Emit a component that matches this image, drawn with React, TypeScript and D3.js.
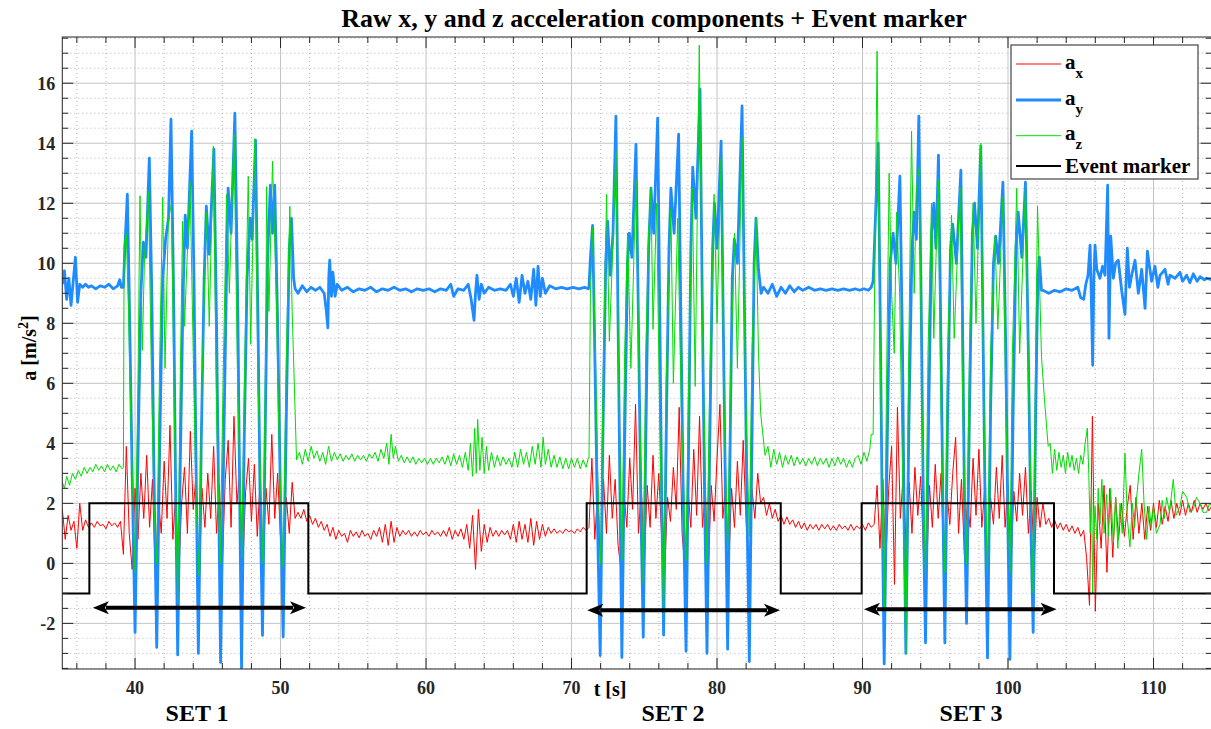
import React, { useEffect, useRef } from 'react';
import * as d3 from 'd3';

type Pt = [number, number];

// axis ticks
const xTicks = [40, 50, 60, 70, 80, 90, 100, 110];
const yTicks = [-2, 0, 2, 4, 6, 8, 10, 12, 14, 16];

// a_x : sampled every 0.2 s starting at 35 s (one row = 2 s)
const axStart = 35;
const axStep = 0.2;
const axValues = [
  1.8, 0.8, 1.6, 1.1, 1.4, 0.5, 2.0, 1.1, 1.45, 1.2, // 35
  1.35, 1.2, 1.4, 1.25, 1.3, 1.15, 1.4, 1.25, 1.35, 1.2, // 37
  1.4, 0.3, 3.9, 1.0, -0.2, 2.5, 0.8, 3.0, 1.5, 3.6, // 39
  1.2, 2.8, -0.6, 2.2, 1.0, 3.4, 1.5, 4.6, 0.8, 2.4, // 41
  -0.5, 2.0, 3.2, 1.0, 4.4, 1.8, 3.0, -1.0, 2.5, 1.2, // 43
  3.0, 1.5, 3.9, 1.0, 2.6, -0.1, 2.8, 4.1, 1.2, 4.9, // 45
  2.0, 3.0, -0.2, 2.4, 3.5, 1.4, 3.3, 0.9, 2.8, 0.0, // 47
  2.5, 1.3, 4.3, 1.5, 3.0, 0.8, -0.1, 2.2, 1.0, 2.7, // 49
  1.5, 1.7, 1.5, 1.8, 1.4, 1.6, 1.3, 1.5, 1.2, 1.4, // 51
  1.1, 1.3, 0.9, 1.2, 0.8, 1.1, 0.9, 1.0, 0.7, 1.1, // 53
  0.9, 1.05, 0.85, 1.1, 0.9, 1.0, 0.8, 1.1, 0.9, 1.2, // 55
  0.7, 1.3, 0.6, 1.4, 0.7, 1.2, 0.9, 1.1, 0.95, 1.1, // 57
  0.9, 1.05, 0.9, 1.1, 0.95, 1.05, 0.9, 1.1, 0.95, 1.05, // 59
  0.9, 1.1, 0.9, 1.2, 0.8, 1.1, 0.9, 1.15, 0.8, 1.3, // 61
  0.5, 1.6, -0.2, 1.8, 0.4, 1.3, 0.7, 1.2, 0.9, 1.1, // 63
  0.9, 1.1, 0.95, 1.1, 0.8, 1.3, 0.7, 1.4, 0.8, 1.3, // 65
  0.7, 1.5, 0.6, 1.4, 0.8, 1.3, 0.9, 1.2, 1.0, 1.15, // 67
  1.0, 1.1, 1.0, 1.15, 1.05, 1.1, 1.0, 1.15, 1.05, 1.2, // 69
  1.1, 1.2, 3.5, 0.8, 2.5, -0.3, 2.8, 1.0, 3.6, 1.5, // 71
  2.8, 0.6, -0.2, 2.4, 1.2, 3.5, 1.8, 5.3, 1.0, 2.5, // 73
  -0.1, 2.6, 1.2, 3.6, 1.5, 3.0, 0.8, -0.3, 2.2, 1.4, // 75
  3.2, 1.8, 5.2, 1.0, -0.2, 2.5, 1.2, 3.8, 1.6, 4.9, // 77
  1.2, 2.4, -0.3, 2.6, 1.4, 3.5, 5.3, 1.5, 2.6, -0.2, // 79
  2.5, 1.2, 3.4, 1.6, 4.1, 1.4, -0.3, 2.5, 1.5, 3.0, // 81
  2.0, 2.2, 1.6, 2.0, 1.5, 1.8, 1.4, 1.6, 1.3, 1.55, // 83
  1.3, 1.45, 1.2, 1.4, 1.15, 1.35, 1.1, 1.3, 1.15, 1.3, // 85
  1.1, 1.3, 1.15, 1.3, 1.1, 1.25, 1.1, 1.3, 1.15, 1.25, // 87
  1.1, 1.3, 1.1, 1.25, 1.15, 1.3, 1.1, 1.35, 1.2, 1.3, // 89
  2.6, 0.5, 2.8, 0.0, 2.5, 3.9, -0.7, 5.2, 1.5, 3.0, // 91
  0.5, 2.7, 1.0, 3.2, 1.6, 2.9, 0.2, -0.4, 2.6, 1.2, // 93
  3.3, 1.5, 3.0, -0.3, 2.4, 1.3, 3.0, 4.2, 1.0, 2.8, // 95
  0.3, 2.0, 1.2, 3.5, 1.6, 3.8, 1.2, 2.5, -0.5, 2.2, // 97
  1.3, 3.2, 1.5, 3.6, 1.2, 2.6, -0.2, 2.4, 1.4, 3.0, // 99
  1.6, 3.2, 1.0, 2.4, 0.0, 2.2, 1.2, 2.0, 1.3, 1.5, // 101
  1.2, 1.45, 1.15, 1.35, 1.1, 1.3, 1.05, 1.25, 1.0, 1.2, // 103
  0.9, 1.1, 0.2, -1.4, 4.9, -1.6, 2.0, 0.5, 2.6, -0.3, // 105
  2.5, 0.2, 2.2, 0.8, 2.0, 0.9, 1.9, 2.6, 0.8, 2.2, // 107
  1.0, 2.0, 0.8, 1.9, 1.1, 2.0, 1.2, 2.1, 1.3, 1.9, // 109
  1.4, 2.1, 1.5, 2.0, 1.6, 2.1, 1.6, 2.0, 1.7, 2.1, // 111
  1.7, 2.0, 1.8, 2.0, 1.75, 1.9, // 113
];

// a_y : [t, value]
const ayPoints: Pt[] = [
  [35.0, 9.3], [35.15, 9.75], [35.3, 8.8], [35.45, 9.5], [35.6, 8.6], [35.75, 9.4], [35.9, 10.2], [36.05, 8.7],
  [36.2, 9.3], [36.4, 9.2], [36.6, 9.3], [36.8, 9.2], [37.0, 9.25], [37.3, 9.15], [37.6, 9.25], [37.9, 9.2],
  [38.2, 9.3], [38.5, 9.15], [38.8, 9.25], [38.95, 9.45], [39.05, 9.2],
  // set 1
  [39.2, 9.2], [39.3, 10.5], [39.47, 12.3], [39.6, 9.0], [39.8, 3.0], [40.0, -2.3], [40.2, 3.5], [40.4, 9.0],
  [40.57, 10.7], [40.75, 10.2], [40.98, 13.5], [41.15, 9.0], [41.3, 3.0], [41.49, -2.8], [41.7, 4.0], [41.9, 9.5],
  [42.1, 10.8], [42.3, 11.5], [42.47, 14.8], [42.65, 9.0], [42.8, 2.0], [42.93, -3.05], [43.1, 3.0], [43.3, 9.0],
  [43.45, 11.6], [43.6, 10.5], [43.89, 14.4], [44.05, 9.5], [44.2, 3.0], [44.35, -3.0], [44.55, 4.0], [44.75, 9.5],
  [44.9, 11.9], [45.1, 10.3], [45.42, 13.8], [45.6, 8.0], [45.75, 2.0], [45.88, -3.3], [46.1, 4.0], [46.3, 10.0],
  [46.4, 12.5], [46.6, 11.0], [46.86, 15.0], [47.05, 9.0], [47.2, 2.0], [47.32, -3.5], [47.5, 4.0], [47.7, 9.5],
  [47.9, 11.5], [48.05, 10.8], [48.28, 14.1], [48.45, 8.0], [48.6, 2.0], [48.76, -2.4], [48.95, 4.5], [49.1, 10.0],
  [49.3, 12.6], [49.45, 11.0], [49.6, 12.6], [49.8, 8.0], [50.0, 2.0], [50.18, -2.45], [50.4, 5.0], [50.6, 10.5],
  [50.75, 11.5], [50.9, 9.5], [51.0, 9.15],
  [51.2, 9.0], [51.5, 9.25], [51.8, 9.05], [52.1, 9.2], [52.4, 9.1], [52.7, 9.2], [53.0, 9.0], [53.15, 8.4],
  [53.25, 7.85], [53.32, 9.6], [53.38, 10.1], [53.5, 8.9], [53.6, 9.7], [53.75, 8.9], [53.9, 9.3], [54.2, 9.1],
  [54.6, 9.2], [55.0, 9.05], [55.4, 9.15], [55.8, 9.1], [56.2, 9.2], [56.6, 9.05], [57.0, 9.15], [57.4, 9.1],
  [57.8, 9.2], [58.2, 9.1], [58.6, 9.15], [59.0, 9.05], [59.4, 9.15], [59.8, 9.1], [60.2, 9.15], [60.6, 9.05],
  [61.0, 9.15], [61.4, 9.1], [61.7, 9.3], [61.9, 8.9], [62.2, 9.15], [62.6, 9.1], [62.9, 9.3], [63.1, 8.8],
  [63.3, 8.1], [63.4, 9.0], [63.5, 9.6], [63.65, 8.8], [63.8, 9.3], [64.0, 9.0], [64.3, 9.2], [64.7, 9.1],
  [65.1, 9.15], [65.5, 9.1], [65.8, 9.3], [66.0, 8.9], [66.2, 9.5], [66.4, 8.7], [66.6, 9.6], [66.8, 9.0],
  [67.0, 9.4], [67.2, 8.8], [67.4, 9.8], [67.55, 8.6], [67.7, 9.9], [67.85, 8.9], [68.0, 9.5], [68.2, 9.0],
  [68.5, 9.25], [68.9, 9.15], [69.3, 9.2], [69.7, 9.15], [70.1, 9.2], [70.5, 9.15], [70.9, 9.2], [71.15, 9.15],
  // set 2
  [71.2, 9.2], [71.3, 10.2], [71.45, 11.26], [71.6, 7.0], [71.8, 1.0], [71.97, -3.07], [72.15, 4.0], [72.35, 10.0],
  [72.48, 11.4], [72.66, 9.6], [72.85, 11.0], [73.05, 14.9], [73.2, 8.0], [73.35, 1.5], [73.46, -3.14], [73.65, 4.0],
  [73.85, 10.0], [73.97, 11.0], [74.15, 10.2], [74.43, 13.96], [74.6, 8.0], [74.78, 1.5], [74.93, -2.46], [75.1, 4.0],
  [75.3, 10.5], [75.46, 12.5], [75.65, 11.0], [75.92, 14.84], [76.05, 9.0], [76.2, 2.0], [76.33, -2.39], [76.5, 4.0],
  [76.7, 10.5], [76.83, 12.5], [77.05, 11.0], [77.36, 14.3], [77.52, 8.0], [77.7, 1.5], [77.87, -2.93], [78.05, 4.0],
  [78.2, 10.5], [78.33, 13.2], [78.55, 11.5], [78.83, 15.8], [78.98, 9.0], [79.15, 2.0], [79.31, -3.0], [79.5, 4.0],
  [79.7, 10.5], [79.82, 12.0], [80.0, 10.5], [80.28, 14.07], [80.43, 8.0], [80.6, 1.5], [80.73, -2.86], [80.9, 4.0],
  [81.05, 9.5], [81.19, 10.8], [81.4, 10.0], [81.72, 15.24], [81.9, 8.0], [82.07, 1.5], [82.22, -3.27], [82.4, 4.0],
  [82.55, 10.0], [82.68, 11.5], [82.85, 9.8], [83.03, 9.0],
  [83.2, 9.2], [83.5, 9.0], [83.8, 9.3], [84.1, 8.9], [84.4, 9.2], [84.7, 9.0], [85.0, 9.25], [85.3, 9.05],
  [85.6, 9.2], [85.9, 9.1], [86.3, 9.2], [86.7, 9.1], [87.1, 9.15], [87.5, 9.1], [87.9, 9.15], [88.3, 9.1],
  [88.7, 9.15], [89.1, 9.1], [89.5, 9.15], [89.8, 9.1], [90.1, 9.15], [90.4, 9.1], [90.6, 9.2],
  // set 3
  [90.73, 9.4], [90.85, 11.0], [91.0, 13.0], [91.08, 14.0], [91.2, 9.0], [91.35, 2.0], [91.49, -3.35], [91.7, 4.0],
  [91.9, 10.0], [92.1, 11.0], [92.3, 10.0], [92.57, 12.9], [92.75, 7.0], [92.87, 1.0], [92.98, -3.0], [93.2, 5.0],
  [93.4, 10.5], [93.55, 11.7], [93.7, 10.8], [93.87, 14.9], [94.05, 8.0], [94.2, 1.0], [94.33, -2.65], [94.55, 5.0],
  [94.75, 11.0], [94.9, 12.0], [95.05, 10.5], [95.22, 13.6], [95.4, 7.0], [95.55, 1.0], [95.66, -2.65], [95.85, 5.0],
  [96.05, 10.5], [96.2, 11.3], [96.45, 10.0], [96.76, 13.1], [96.9, 7.0], [97.02, 1.5], [97.15, -2.0], [97.35, 5.0],
  [97.55, 11.0], [97.7, 12.0], [97.9, 10.5], [98.13, 13.9], [98.3, 7.0], [98.45, 1.0], [98.59, -3.15], [98.8, 5.0],
  [99.0, 10.0], [99.15, 10.9], [99.35, 10.0], [99.65, 12.7], [99.85, 7.0], [100.0, 1.0], [100.13, -3.2], [100.35, 5.0],
  [100.55, 10.5], [100.7, 11.7], [100.95, 10.2], [101.2, 12.7], [101.4, 7.0], [101.58, 1.0], [101.73, -2.3], [101.9, 5.0],
  [102.05, 9.5], [102.15, 10.2], [102.3, 9.1],
  [102.4, 9.1], [102.8, 9.0], [103.2, 9.1], [103.6, 9.05], [104.0, 9.15], [104.4, 9.1], [104.8, 9.2], [105.0, 8.85],
  [105.2, 8.8], [105.35, 9.3], [105.5, 9.6], [105.64, 10.6], [105.72, 9.0], [105.82, 6.6], [105.9, 9.5], [105.98, 10.6],
  [106.1, 9.8], [106.32, 9.5], [106.5, 9.9], [106.67, 9.6], [106.85, 12.6], [106.94, 7.5], [107.06, 10.9], [107.24, 9.5],
  [107.4, 10.0], [107.58, 10.1], [107.81, 9.1], [108.04, 8.3], [108.2, 10.5], [108.35, 9.2], [108.5, 9.6], [108.73, 10.1],
  [108.96, 9.0], [109.19, 9.8], [109.42, 8.5], [109.58, 10.4], [109.87, 9.4], [110.1, 9.9], [110.3, 9.2], [110.45, 9.6],
  [110.79, 9.8], [111.0, 9.3], [111.13, 9.6], [111.48, 9.5], [111.82, 9.7], [112.0, 9.4], [112.28, 9.6], [112.5, 9.35],
  [112.74, 9.65], [113.0, 9.4], [113.2, 9.55], [113.5, 9.45], [113.65, 9.5], [114.0, 9.45],
];

// a_z : [t, value]
const azPoints: Pt[] = [
  [35.0, 2.7], [35.15, 2.5], [35.3, 2.9], [35.5, 2.6], [35.7, 3.0], [35.9, 2.8], [36.1, 3.1], [36.3, 2.9],
  [36.5, 3.2], [36.7, 3.0], [36.9, 3.2], [37.1, 3.05], [37.3, 3.3], [37.5, 3.1], [37.7, 3.25], [37.9, 3.05],
  [38.1, 3.3], [38.3, 3.1], [38.5, 3.25], [38.7, 3.05], [38.9, 3.3], [39.1, 3.15],
  // set 1
  [39.2, 3.2], [39.25, 10.6], [39.4, 11.0], [39.55, 8.4], [39.75, 4.0], [40.0, -0.3], [40.2, 6.0], [40.34, 12.25],
  [40.5, 7.1], [40.65, 10.2], [40.92, 12.4], [41.1, 7.0], [41.3, 2.0], [41.49, 0.0], [41.7, 7.0], [41.9, 12.2],
  [42.06, 6.5], [42.29, 11.4], [42.5, 12.0], [42.7, 5.0], [42.93, -1.35], [43.1, 6.0], [43.27, 11.4], [43.4, 7.9],
  [43.78, 12.7], [44.0, 7.0], [44.2, 2.0], [44.4, -0.4], [44.6, 6.0], [44.92, 11.7], [45.1, 7.9], [45.38, 13.9],
  [45.6, 5.0], [45.85, 0.0], [46.05, 6.0], [46.29, 12.3], [46.48, 9.0], [46.8, 14.3], [47.05, 6.0], [47.33, 0.2],
  [47.55, 7.0], [47.78, 12.9], [47.95, 7.3], [48.24, 14.15], [48.45, 6.0], [48.8, 0.0], [49.0, 8.0], [49.04, 12.55],
  [49.2, 8.4], [49.45, 13.4], [49.7, 9.0], [49.9, 4.0], [50.17, -0.1], [50.4, 7.0], [50.64, 11.9], [50.8, 8.4],
  [50.95, 5.9], [51.1, 3.45],
  [51.3, 3.7], [51.5, 3.3], [51.7, 3.8], [51.9, 3.4], [52.1, 3.9], [52.3, 3.5], [52.5, 3.75], [52.7, 3.4],
  [52.9, 3.7], [53.1, 3.3], [53.3, 3.9], [53.5, 3.4], [53.7, 3.7], [53.9, 3.45], [54.1, 3.65], [54.3, 3.4],
  [54.5, 3.6], [54.7, 3.45], [54.9, 3.65], [55.1, 3.4], [55.3, 3.6], [55.5, 3.45], [55.7, 3.6], [55.9, 3.4],
  [56.1, 3.65], [56.3, 3.5], [56.5, 3.7], [56.7, 3.4], [56.9, 3.8], [57.1, 3.5], [57.3, 4.0], [57.45, 3.3],
  [57.6, 4.3], [57.75, 3.5], [57.9, 3.9], [58.1, 3.4], [58.3, 3.6], [58.5, 3.35], [58.7, 3.55], [58.9, 3.35],
  [59.1, 3.55], [59.3, 3.3], [59.5, 3.5], [59.7, 3.35], [59.9, 3.5], [60.1, 3.3], [60.3, 3.5], [60.5, 3.3],
  [60.7, 3.5], [60.9, 3.35], [61.1, 3.55], [61.3, 3.3], [61.5, 3.6], [61.7, 3.25], [61.9, 3.65], [62.1, 3.3],
  [62.3, 3.6], [62.5, 3.2], [62.7, 3.7], [62.9, 3.1], [63.05, 4.0], [63.2, 2.9], [63.35, 4.5], [63.45, 3.0],
  [63.55, 4.8], [63.7, 3.1], [63.85, 4.2], [64.0, 3.0], [64.15, 3.9], [64.3, 3.1], [64.5, 3.7], [64.7, 3.2],
  [64.9, 3.6], [65.1, 3.25], [65.3, 3.55], [65.5, 3.3], [65.7, 3.5], [65.9, 3.2], [66.1, 3.7], [66.3, 3.2],
  [66.5, 3.8], [66.7, 3.3], [66.9, 3.7], [67.1, 3.2], [67.3, 3.9], [67.5, 3.3], [67.7, 4.0], [67.9, 3.2],
  [68.05, 4.2], [68.2, 3.3], [68.4, 3.8], [68.6, 3.2], [68.8, 3.6], [69.0, 3.2], [69.2, 3.55], [69.4, 3.15],
  [69.6, 3.5], [69.8, 3.15], [70.0, 3.5], [70.2, 3.2], [70.4, 3.5], [70.6, 3.15], [70.8, 3.45], [71.0, 3.2],
  [71.15, 3.5],
  // set 2
  [71.2, 3.5], [71.3, 9.0], [71.45, 11.2], [71.6, 8.0], [71.8, 3.0], [72.0, 0.0], [72.2, 7.0], [72.41, 12.3],
  [72.6, 7.4], [72.8, 10.0], [73.05, 13.75], [73.25, 6.0], [73.46, 0.1], [73.65, 7.0], [73.85, 11.0], [74.08, 6.5],
  [74.43, 12.8], [74.65, 6.0], [74.93, -0.7], [75.1, 7.0], [75.3, 11.0], [75.46, 12.5], [75.6, 7.8], [75.85, 12.0],
  [76.05, 5.0], [76.33, -1.9], [76.5, 6.0], [76.83, 11.8], [77.0, 6.0], [77.3, 11.5], [77.55, 5.0], [77.87, 0.1],
  [78.05, 6.0], [78.3, 12.5], [78.5, 5.9], [78.78, 17.27], [79.0, 8.0], [79.31, 0.0], [79.5, 6.0], [79.8, 12.3],
  [80.0, 8.0], [80.28, 13.5], [80.5, 5.0], [80.73, 0.4], [80.95, 6.5], [81.2, 11.0], [81.4, 6.5], [81.72, 14.2],
  [81.95, 6.0], [82.22, 0.9], [82.4, 7.0], [82.68, 11.5], [82.85, 7.0], [83.0, 5.0], [83.3, 3.6],
  [83.5, 3.9], [83.7, 3.2], [83.9, 3.8], [84.1, 3.3], [84.3, 3.7], [84.5, 3.2], [84.7, 3.6], [84.9, 3.3],
  [85.1, 3.6], [85.3, 3.25], [85.5, 3.55], [85.7, 3.3], [85.9, 3.5], [86.1, 3.25], [86.3, 3.5], [86.5, 3.3],
  [86.7, 3.55], [86.9, 3.25], [87.1, 3.5], [87.3, 3.3], [87.5, 3.5], [87.7, 3.2], [87.9, 3.5], [88.1, 3.25],
  [88.3, 3.55], [88.5, 3.3], [88.7, 3.5], [88.9, 3.2], [89.1, 3.45], [89.3, 3.2], [89.5, 3.5], [89.7, 3.6],
  [89.9, 3.3], [90.1, 3.7], [90.3, 3.4], [90.5, 3.8], [90.6, 4.3],
  // set 3
  [90.73, 4.3], [90.85, 10.0], [91.0, 17.07], [91.1, 12.0], [91.3, 4.0], [91.49, -1.5], [91.65, 6.0], [91.83, 13.0],
  [92.0, 9.0], [92.18, 7.0], [92.34, 11.7], [92.55, 9.0], [92.75, 3.0], [92.98, -3.0], [93.15, 6.0], [93.37, 14.4],
  [93.55, 9.0], [93.7, 12.5], [93.9, 13.2], [94.1, 5.0], [94.33, -0.5], [94.5, 7.0], [94.74, 12.0], [94.9, 7.5],
  [95.2, 12.8], [95.4, 5.0], [95.66, -0.3], [95.85, 7.0], [96.12, 11.6], [96.3, 7.5], [96.7, 12.5], [96.9, 5.0],
  [97.15, 0.0], [97.35, 7.0], [97.6, 12.0], [97.8, 8.0], [98.13, 14.0], [98.35, 5.0], [98.59, -0.4], [98.8, 7.0],
  [99.1, 10.9], [99.3, 7.8], [99.65, 12.2], [99.85, 5.0], [100.13, -0.3], [100.3, 7.0], [100.6, 12.5], [100.8, 7.0],
  [101.2, 12.6], [101.45, 5.0], [101.73, -1.0], [101.9, 7.0], [102.03, 11.9], [102.3, 6.9], [102.5, 5.5], [102.76, 3.9],
  [102.9, 4.0], [103.05, 3.0], [103.2, 3.8], [103.35, 3.1], [103.5, 3.7], [103.65, 3.2], [103.8, 3.6], [103.95, 3.0],
  [104.1, 3.7], [104.25, 3.2], [104.4, 3.6], [104.55, 3.1], [104.7, 3.5], [104.85, 3.0], [105.0, 3.6], [105.15, 3.3],
  [105.3, 4.0], [105.45, 4.5], [105.55, 3.0], [105.65, 1.0], [105.75, 2.5], [105.82, -1.0], [105.9, 1.0], [105.98, 1.9],
  [106.1, 0.8], [106.2, 2.5], [106.32, 1.3], [106.45, 2.8], [106.6, 1.0], [106.78, 2.3], [106.9, 0.9], [107.05, 2.5],
  [107.24, 0.7], [107.4, 2.2], [107.55, 0.5], [107.7, 2.0], [107.85, 1.0], [108.04, 3.67], [108.2, 1.5], [108.38, 0.55],
  [108.55, 2.0], [108.7, 1.2], [108.84, 2.2], [109.0, 3.0], [109.19, 3.8], [109.35, 2.0], [109.53, 0.8], [109.7, 1.9],
  [109.85, 1.2], [109.99, 1.9], [110.2, 1.0], [110.45, 1.3], [110.6, 2.1], [110.75, 1.5], [110.9, 2.2], [111.1, 1.7],
  [111.36, 2.8], [111.55, 1.6], [111.82, 1.9], [112.0, 2.4], [112.28, 2.2], [112.5, 1.7], [112.74, 1.8], [112.95, 2.2],
  [113.2, 2.0], [113.4, 1.7], [113.65, 1.7], [113.85, 2.0], [114.0, 1.9],
];

// event marker (step after each point)
const eventPoints: Pt[] = [
  [35, -1], [36.86, 2], [51.91, -1], [71.04, 2], [84.38, -1], [89.94, 2], [103.16, -1], [114, -1],
];

// set annotations
const setNames = ['SET 1', 'SET 2', 'SET 3'];
const setLabelT = [44.26, 76.98, 97.46];
const setArrowFrom = [37.1, 71.08, 90.1];
const setArrowTo = [51.75, 84.33, 103.34];
const setArrowLevel = [-1.48, -1.56, -1.53];

const legendItems = [
  { sub: 'x', color: '#ff0000', width: 1 },
  { sub: 'y', color: '#1e8cff', width: 3 },
  { sub: 'z', color: '#00dd00', width: 1 },
];

const W = 1211;
const H = 729;
const FONT = '"Liberation Serif", "Times New Roman", serif';

export default function App() {
  const ref = useRef<SVGSVGElement>(null);

  useEffect(() => {
    const svg = d3.select(ref.current);
    svg.selectAll('*').remove();

    const left = 62.3, right = 1211.7, top = 37, bottom = 669;
    const x = d3.scaleLinear().domain([35, 114]).range([left, right]);
    const y = d3.scaleLinear().domain([-3.52, 17.54]).range([bottom, top]);

    svg.append('rect').attr('width', W).attr('height', H).attr('fill', '#fff');

    const defs = svg.append('defs');
    defs.append('clipPath').attr('id', 'plotclip')
      .append('rect').attr('x', left).attr('y', top).attr('width', right - left).attr('height', bottom - top);

    // minor grid
    const xMinor = d3.range(36, 114.01, 2).filter(v => v % 10 !== 0);
    const yMinor = d3.range(-3.5, 17.51, 0.5).filter(v => Math.abs(v % 2) > 0.01);
    const grid = svg.append('g');
    grid.selectAll('.xm').data(xMinor).enter().append('line')
      .attr('x1', d => x(d)).attr('x2', d => x(d)).attr('y1', top).attr('y2', bottom)
      .attr('stroke', '#b4b4b4').attr('stroke-width', 1).attr('stroke-dasharray', '1 3');
    grid.selectAll('.ym').data(yMinor).enter().append('line')
      .attr('x1', left).attr('x2', right).attr('y1', d => y(d)).attr('y2', d => y(d))
      .attr('stroke', '#b4b4b4').attr('stroke-width', 1).attr('stroke-dasharray', '1 3');
    // major grid
    grid.selectAll('.xM').data(xTicks).enter().append('line')
      .attr('x1', d => x(d)).attr('x2', d => x(d)).attr('y1', top).attr('y2', bottom)
      .attr('stroke', '#c4c4c4').attr('stroke-width', 1);
    grid.selectAll('.yM').data(yTicks).enter().append('line')
      .attr('x1', left).attr('x2', right).attr('y1', d => y(d)).attr('y2', d => y(d))
      .attr('stroke', '#c4c4c4').attr('stroke-width', 1);

    // data lines
    const line = d3.line<Pt>().x(d => x(d[0])).y(d => y(d[1]));
    const axPoints: Pt[] = axValues.map((v, i) => [axStart + i * axStep, v]);
    const plot = svg.append('g').attr('clip-path', 'url(#plotclip)');
    plot.append('path').attr('d', line(axPoints)).attr('fill', 'none')
      .attr('stroke', '#ff0000').attr('stroke-width', 1).attr('stroke-linejoin', 'round');
    plot.append('path').attr('d', line(ayPoints)).attr('fill', 'none')
      .attr('stroke', '#1e8cff').attr('stroke-width', 2.8).attr('stroke-linejoin', 'round');
    plot.append('path').attr('d', line(azPoints)).attr('fill', 'none')
      .attr('stroke', '#00dd00').attr('stroke-width', 1).attr('stroke-linejoin', 'round');
    const step = d3.line<Pt>().x(d => x(d[0])).y(d => y(d[1])).curve(d3.curveStepAfter);
    plot.append('path').attr('d', step(eventPoints)).attr('fill', 'none')
      .attr('stroke', '#000').attr('stroke-width', 2);

    // double arrows under each set
    const head = 16, half = 6.5;
    setNames.forEach((_, i) => {
      const x0 = x(setArrowFrom[i]), x1 = x(setArrowTo[i]), yy = y(setArrowLevel[i]);
      plot.append('line').attr('x1', x0 + head - 3).attr('x2', x1 - head + 3).attr('y1', yy).attr('y2', yy)
        .attr('stroke', '#000').attr('stroke-width', 4);
      plot.append('path')
        .attr('d', `M${x0},${yy} L${x0 + head},${yy - half} L${x0 + head - 4},${yy} L${x0 + head},${yy + half} Z`)
        .attr('fill', '#000');
      plot.append('path')
        .attr('d', `M${x1},${yy} L${x1 - head},${yy - half} L${x1 - head + 4},${yy} L${x1 - head},${yy + half} Z`)
        .attr('fill', '#000');
    });

    // axes box and ticks
    const axisCol = '#262626';
    svg.append('rect').attr('x', left).attr('y', top).attr('width', right - left).attr('height', bottom - top)
      .attr('fill', 'none').attr('stroke', axisCol).attr('stroke-width', 1);
    const ticks = svg.append('g').attr('stroke', axisCol).attr('stroke-width', 1);
    const tk = (xs: number[], len: number) => {
      xs.forEach(v => {
        ticks.append('line').attr('x1', x(v)).attr('x2', x(v)).attr('y1', bottom).attr('y2', bottom - len);
        ticks.append('line').attr('x1', x(v)).attr('x2', x(v)).attr('y1', top).attr('y2', top + len);
      });
    };
    const tky = (ys: number[], len: number) => {
      ys.forEach(v => {
        ticks.append('line').attr('x1', left).attr('x2', left + len).attr('y1', y(v)).attr('y2', y(v));
        ticks.append('line').attr('x1', right).attr('x2', right - len).attr('y1', y(v)).attr('y2', y(v));
      });
    };
    tk(xTicks, 11);
    tk(xMinor, 6);
    tky(yTicks, 11);
    tky(yMinor, 6);

    // tick labels
    const txt = svg.append('g').attr('font-family', FONT).attr('font-weight', 'bold').attr('fill', axisCol);
    txt.selectAll('.xl').data(xTicks).enter().append('text')
      .attr('x', d => x(d)).attr('y', 694).attr('text-anchor', 'middle').attr('font-size', 18)
      .text(d => d);
    txt.selectAll('.yl').data(yTicks).enter().append('text')
      .attr('x', left - 7).attr('y', d => y(d)).attr('dy', '0.35em').attr('text-anchor', 'end').attr('font-size', 18)
      .text(d => d);

    // axis labels
    txt.append('text').attr('x', x(72.65)).attr('y', 696).attr('text-anchor', 'middle').attr('font-size', 20)
      .attr('fill', '#000').text('t [s]');
    const yl = txt.append('text').attr('transform', `translate(36,${(top + bottom) / 2 - 5}) rotate(-90)`)
      .attr('text-anchor', 'middle').attr('font-size', 20).attr('fill', '#000');
    yl.append('tspan').text('a [m/s');
    yl.append('tspan').attr('font-size', 14).attr('dy', -8).text('2');
    yl.append('tspan').attr('dy', 8).text(']');

    // set labels
    setNames.forEach((n, i) => {
      txt.append('text').attr('x', x(setLabelT[i])).attr('y', 721).attr('text-anchor', 'middle')
        .attr('font-size', 24).attr('fill', '#000').text(n);
    });

    // title
    svg.append('text').attr('x', 654).attr('y', 27).attr('text-anchor', 'middle')
      .attr('font-family', FONT).attr('font-weight', 'bold').attr('font-size', 26).attr('fill', '#000')
      .text('Raw x, y and z acceleration components + Event marker');

    // legend
    const lg = svg.append('g');
    lg.append('rect').attr('x', 1011).attr('y', 45).attr('width', 187).attr('height', 134)
      .attr('fill', '#fff').attr('stroke', '#444').attr('stroke-width', 1.2);
    const rowsY = [64, 100, 135.7];
    legendItems.forEach((it, i) => {
      lg.append('line').attr('x1', 1016).attr('x2', 1061).attr('y1', rowsY[i]).attr('y2', rowsY[i])
        .attr('stroke', it.color).attr('stroke-width', it.width);
      const t = lg.append('text').attr('x', 1065).attr('y', rowsY[i] + 4.5)
        .attr('font-family', FONT).attr('font-weight', 'bold').attr('font-size', 21).attr('fill', '#000');
      t.append('tspan').text('a');
      t.append('tspan').attr('dy', 9).attr('font-size', 15).text(it.sub);
    });
    lg.append('line').attr('x1', 1016).attr('x2', 1061).attr('y1', 166).attr('y2', 166)
      .attr('stroke', '#000').attr('stroke-width', 2);
    lg.append('text').attr('x', 1065).attr('y', 173).attr('font-family', FONT).attr('font-weight', 'bold')
      .attr('font-size', 21).attr('fill', '#000').text('Event marker');
  }, []);

  return (
    <svg ref={ref} width={W} height={H}
      style={{ position: 'absolute', left: 0, top: 0, display: 'block' }} />
  );
}
